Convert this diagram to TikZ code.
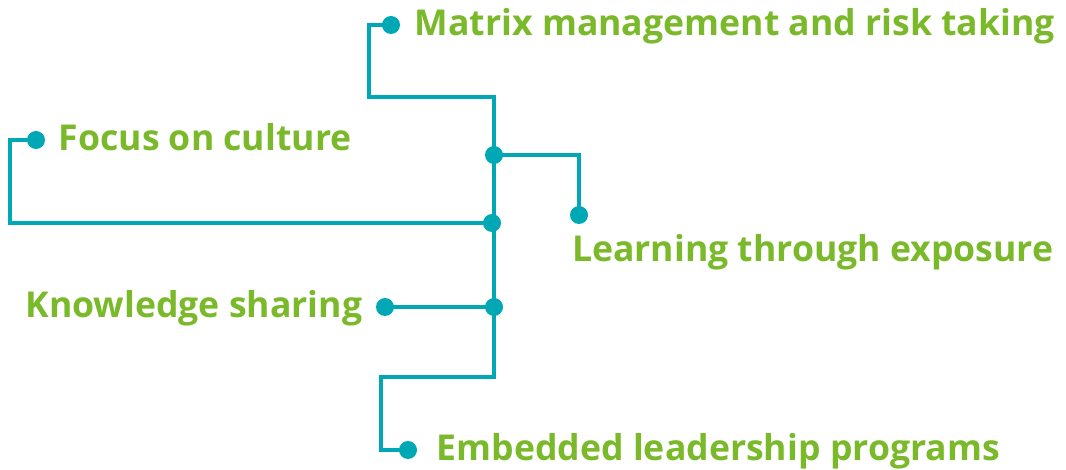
\documentclass[tikz,border=0pt]{standalone}
\usepackage{fontspec}
\setmainfont{Open Sans}
\usepackage{tikz}
\usetikzlibrary{positioning}
\definecolor{wireteal}{RGB}{0,168,182}
\definecolor{leafgreen}{RGB}{122,185,41}
\tikzset{
    wire/.style={draw=wireteal, line width=2pt},
    dot/.style={circle, fill=wireteal, inner sep=0pt, minimum size=9pt},
    itemtext/.style={text=leafgreen, font=\fontsize{17.8}{20}\selectfont\bfseries, inner sep=0pt, text height=1.35ex, text depth=0pt, yshift=-1.8pt}
}

\begin{document}
\begin{tikzpicture}[x=0.5pt, y=-0.5pt]
    \useasboundingbox (0,0) rectangle (1066,470);
    % trunk and junctions
    \coordinate (trunk-top) at (494,97);
    \coordinate (trunk-bot) at (494,377);
    \node (j-learn) [dot] at (494,155) {};
    \node (j-focus) [dot] at (492,223) {};
    \node (j-know) [dot] at (494,307) {};

    % end points
    \node (matrix-dot) [dot] at (391,25) {};
    \node (learn-dot) [dot] at (579,215) {};
    \node (focus-dot) [dot] at (36,140) {};
    \node (know-dot) [dot] at (385,307) {};
    \node (embed-dot) [dot] at (408,450) {};

    % texts
    \node (matrix) [itemtext, right=7pt of matrix-dot] {Matrix management and risk taking};
    \node (learn) [itemtext, below right=10.5pt and -7pt of learn-dot] {Learning through exposure};
    \node (focus) [itemtext, right=6.5pt of focus-dot] {Focus on culture};
    \node (know) [itemtext, left=6.5pt of know-dot] {Knowledge sharing};
    \node (embed) [itemtext, right=9.5pt of embed-dot] {Embedded leadership programs};

    % bends
    \coordinate (matrix-turn) at (369,97);
    \coordinate (focus-turn) at (10,140);
    \coordinate (embed-turn) at (381,450);

    \draw[wire] (matrix-dot.center) -| (matrix-turn) -- (trunk-top) -- (trunk-bot) -| (embed-turn) -- (embed-dot.center);
    \draw[wire] (j-learn.center) -| (learn-dot.center);
    \draw[wire] (j-focus.center) -| (focus-turn) -- (focus-dot.center);
    \draw[wire] (j-know.center) -- (know-dot.center);
\end{tikzpicture}
\end{document}
